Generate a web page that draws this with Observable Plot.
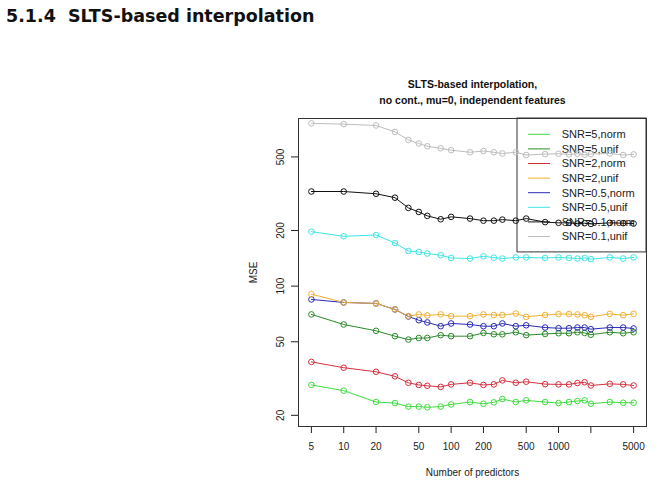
<!DOCTYPE html>
<html>
<head>
<meta charset="utf-8">
<script src="https://cdn.jsdelivr.net/npm/d3@7"></script>
<script src="https://cdn.jsdelivr.net/npm/@observablehq/plot@0.6"></script>
<style>
  body { margin: 0; background: #fff; }
  #page { position: relative; width: 656px; height: 484px; overflow: hidden; background: #fff; }
  #heading { position: absolute; left: 6px; top: 6px; line-height: 20px; font: bold 17.5px "DejaVu Sans", sans-serif; color: #111; white-space: pre; }
  #chart { position: absolute; left: 0; top: 40px; }
</style>
</head>
<body>
<div id="page">
  <div id="heading">5.1.4  SLTS-based interpolation</div>
  <div id="chart"></div>
</div>
<script>
// Number of predictors at which each simulation was run
const predictors = [5, 10, 20, 30, 40, 50, 60, 80, 100, 150, 200, 250, 300, 400, 500, 750, 1000, 1250, 1500, 1750, 2000, 3000, 4000, 5000];

// Mean squared error of SLTS-based interpolation, one array per setting
const snr5Norm  = [29.2, 27.2, 23.6, 23.3, 22.3, 22.3, 22.1, 22.3, 22.9, 23.6, 23.1, 23.5, 24.5, 23.6, 24.1, 23.6, 23.3, 23.6, 23.9, 24.1, 23.1, 23.6, 23.4, 23.4];
const snr5Unif  = [70.3, 62.0, 57.3, 53.6, 51.4, 52.4, 52.4, 54.3, 53.6, 53.6, 55.8, 54.9, 54.9, 56.3, 54.3, 55.1, 55.6, 55.6, 56.3, 55.8, 54.6, 56.3, 55.6, 56.3];
const snr2Norm  = [38.9, 36.2, 34.4, 32.5, 30.0, 29.2, 28.9, 28.5, 29.4, 30.0, 29.2, 29.4, 30.9, 30.0, 30.4, 29.5, 29.4, 29.4, 29.9, 30.2, 29.0, 29.6, 29.4, 29.0];
const snr2Unif  = [90.5, 81.6, 80.6, 74.8, 68.8, 70.3, 69.4, 70.3, 68.8, 68.8, 70.3, 69.8, 69.8, 71.1, 68.2, 69.8, 70.6, 70.6, 70.3, 69.6, 68.2, 70.8, 69.6, 70.8];
const snr05Norm = [84.7, 81.6, 80.6, 74.8, 68.5, 65.4, 63.6, 60.7, 62.8, 62.0, 60.7, 60.7, 62.8, 60.7, 61.4, 59.7, 59.2, 59.2, 59.7, 59.7, 58.5, 59.7, 59.7, 59.0];
const snr05Unif = [197, 186, 189, 171, 155, 153, 150, 147, 142, 141, 145, 142.5, 141, 143, 143, 142, 143, 142, 141, 142, 140, 143, 141, 143];
const snr01Norm = [325, 325, 316, 301, 265, 252, 240, 230, 237, 232, 226, 226, 229, 226, 232, 222, 220, 220, 218, 219, 217, 220, 219, 218];
const snr01Unif = [760, 752, 740, 683, 618, 591, 571, 557, 544, 530, 538, 530, 522, 530, 512, 518, 520, 516, 520, 514, 518, 522, 512, 516];

const seriesNames  = ["SNR=5,norm", "SNR=5,unif", "SNR=2,norm", "SNR=2,unif", "SNR=0.5,norm", "SNR=0.5,unif", "SNR=0.1,norm", "SNR=0.1,unif"];
const seriesValues = [snr5Norm, snr5Unif, snr2Norm, snr2Unif, snr05Norm, snr05Unif, snr01Norm, snr01Unif];
const seriesColors = ["#3ddc3d", "#2a8a2a", "#d4303f", "#f0b030", "#2a2ab5", "#3ee6e6", "#111111", "#bdbdbd"];

// Axis ticks (the 2000 tick carries no label)
const xTicks = [5, 10, 20, 50, 100, 200, 500, 1000, 2000, 5000];
const xTickLabels = ["5", "10", "20", "50", "100", "200", "500", "1000", "", "5000"];
const yTicks = [20, 50, 100, 200, 500];

const titleLines = ["SLTS-based interpolation,", "no cont., mu=0, independent features"];
const xLabel = "Number of predictors";
const yLabel = "MSE";

// Long-format table for the marks; blue is drawn before orange so orange stays on top where they meet
const drawOrder = [0, 1, 2, 4, 3, 5, 6, 7];
const rows = [];
for (const i of drawOrder) {
  seriesValues[i].forEach((v, j) => rows.push({series: seriesNames[i], n: predictors[j], mse: v}));
}

// Log x scale padded by 4% of the predictor range on each side; fixed y limits
const pad = 0.04;
const lx = [Math.log10(d3.min(predictors)), Math.log10(d3.max(predictors))];
const xDomain = [10 ** (lx[0] - pad * (lx[1] - lx[0])), 10 ** (lx[1] + pad * (lx[1] - lx[0]))];
const yDomain = [17.4, 807];

const ink = "#222";

const chart = Plot.plot({
  width: 656,
  height: 444,
  marginTop: 78,
  marginBottom: 58,
  marginLeft: 298,
  marginRight: 10,
  style: {fontFamily: "'Liberation Sans', Arial, sans-serif", fontSize: "10px", color: ink, background: "white"},
  x: {type: "log", domain: xDomain},
  y: {type: "log", domain: yDomain},
  color: {domain: seriesNames, range: seriesColors},
  marks: [
    Plot.axisX({ticks: xTicks, tickSize: 7, tickFormat: () => "", label: null, stroke: ink}),
    Plot.text(xTicks, {x: d => d, text: (d, i) => xTickLabels[i], frameAnchor: "bottom", dy: 20.7, lineAnchor: "middle", fontSize: 10, fill: ink}),
    Plot.axisY({ticks: yTicks, tickSize: 7, tickFormat: () => "", label: null, stroke: ink}),
    Plot.text(yTicks, {y: d => d, text: d => String(d), frameAnchor: "left", dx: -18, rotate: -90, textAnchor: "middle", lineAnchor: "middle", fontSize: 10, fill: ink}),
    Plot.text([yLabel], {frameAnchor: "left", dx: -45, rotate: -90, textAnchor: "middle", lineAnchor: "middle", fontSize: 10, fill: ink}),
    Plot.text([xLabel], {frameAnchor: "bottom", dy: 46, lineAnchor: "middle", fontSize: 10, fill: ink}),
    Plot.text([titleLines[0]], {frameAnchor: "top", dy: -34, lineAnchor: "middle", fontSize: 10.5, fontWeight: "bold", fill: "#111"}),
    Plot.text([titleLines[1]], {frameAnchor: "top", dy: -18, lineAnchor: "middle", fontSize: 10.5, fontWeight: "bold", fill: "#111"}),
    Plot.frame({stroke: "#333"}),
    Plot.line(rows, {x: "n", y: "mse", z: "series", stroke: "series", strokeWidth: 1}),
    Plot.dot(rows, {x: "n", y: "mse", stroke: "series", r: 2.8, strokeWidth: 1, fill: "none"})
  ]
});

document.getElementById("chart").appendChild(chart);

// Legend in the top-right corner of the panel, drawn beneath the data lines
const svg = d3.select(chart);
const frameRight = 656 - 10;
const frameTop = 78;
const legendW = 129, legendRowH = 14.6, legendTopPad = 16.3;
const legendH = legendTopPad + legendRowH * (seriesNames.length - 1) + 15.4;
const legend = svg.insert("g", "g[aria-label='line']").attr("aria-label", "legend");
legend.append("rect")
  .attr("x", frameRight - legendW).attr("y", frameTop)
  .attr("width", legendW).attr("height", legendH)
  .attr("fill", "none").attr("stroke", "#333");
seriesNames.forEach((name, i) => {
  const y = frameTop + legendTopPad + i * legendRowH;
  const x0 = frameRight - legendW + 11;
  legend.append("line")
    .attr("x1", x0).attr("x2", x0 + 22).attr("y1", y).attr("y2", y)
    .attr("stroke", seriesColors[i]).attr("stroke-width", 1);
  legend.append("text")
    .attr("x", x0 + 33.7).attr("y", y).attr("dy", "0.35em")
    .attr("text-anchor", "start")
    .attr("font-family", "'Liberation Sans', Arial, sans-serif")
    .attr("font-size", 11).attr("fill", ink)
    .text(name);
});
</script>
</body>
</html>
